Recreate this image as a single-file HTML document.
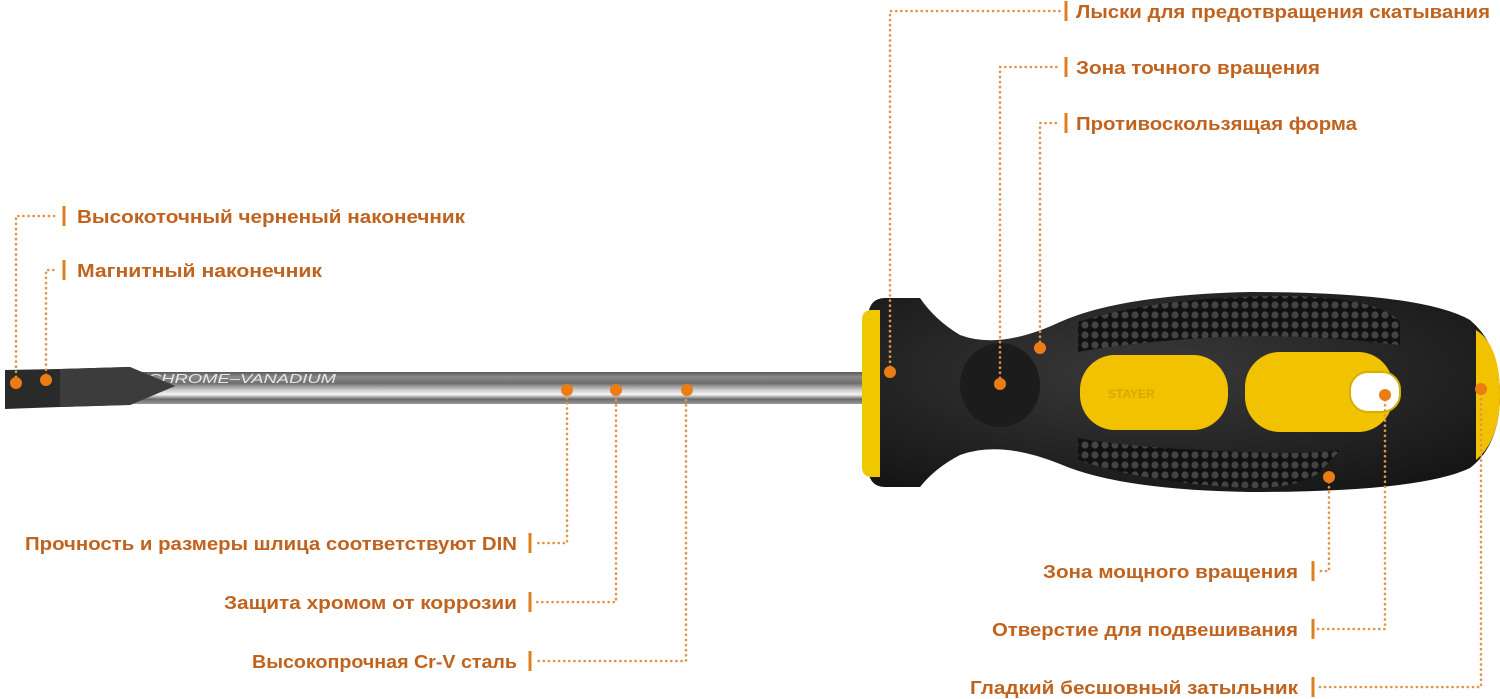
<!DOCTYPE html>
<html><head><meta charset="utf-8"><style>
html,body{margin:0;padding:0;background:#fff;}
svg{display:block;}
text{font-family:"Liberation Sans",sans-serif;font-size:18px;font-weight:bold;fill:#c0631e;}
.d{stroke:#e0944a;stroke-width:2.6;stroke-dasharray:0.1 5;stroke-linecap:round;fill:none;}
.b{stroke:#e07f1f;stroke-width:3;}
.p{fill:#ec7c14;}
</style></head><body>
<svg width="1500" height="699" viewBox="0 0 1500 699" xmlns="http://www.w3.org/2000/svg">
<defs>
<linearGradient id="sh" x1="0" y1="0" x2="0" y2="1">
<stop offset="0" stop-color="#5a5a5a"/><stop offset="0.15" stop-color="#8a8a8a"/><stop offset="0.35" stop-color="#6e6e6e"/><stop offset="0.55" stop-color="#c8c8c8"/><stop offset="0.7" stop-color="#f4f4f4"/><stop offset="0.85" stop-color="#6a6a6a"/><stop offset="1" stop-color="#9a9a9a"/>
</linearGradient>
<radialGradient id="hd" cx="0.45" cy="0.4" r="0.7">
<stop offset="0" stop-color="#3a3a3a"/><stop offset="1" stop-color="#151515"/>
</radialGradient>
<pattern id="dots" width="10" height="10" patternUnits="userSpaceOnUse">
<rect width="10" height="10" fill="#111"/><circle cx="5" cy="5" r="3.6" fill="#444"/>
</pattern>
</defs>
<rect x="120" y="372" width="745" height="32" fill="url(#sh)"/>
<text x="148" y="383" style="font-size:13px;font-weight:normal;fill:#e8e8e8;font-style:italic" textLength="188" lengthAdjust="spacingAndGlyphs">CHROME–VANADIUM</text>
<path d="M5 370 L60 369 L130 367 L175 386 L130 405 L60 407 L5 409 Z" fill="#2a2a2a"/>
<path d="M60 369 L130 367 L175 386 L130 405 L60 407 Z" fill="#3c3c3c"/>
<path d="M868 315 Q870 298 885 298 L920 298 Q935 320 960 335 Q1000 350 1060 322 Q1120 295 1250 292 Q1420 292 1470 320 Q1500 345 1500 395 Q1500 445 1470 468 Q1420 492 1250 492 Q1120 490 1060 464 Q1000 440 960 455 Q935 468 920 487 L885 487 Q870 487 868 470 Z" fill="url(#hd)"/>
<path d="M862 320 Q862 310 872 310 L880 310 L880 477 L872 477 Q862 477 862 467 Z" fill="#f0c800"/>
<path d="M1078 322 Q1160 296 1290 296 Q1380 298 1400 322 L1400 345 Q1300 332 1200 338 Q1120 344 1078 352 Z" fill="url(#dots)"/>
<path d="M1078 438 Q1120 446 1200 450 Q1300 456 1340 450 L1320 472 Q1300 488 1250 488 Q1150 484 1078 460 Z" fill="url(#dots)"/>
<ellipse cx="1000" cy="385" rx="40" ry="42" fill="#1c1c1c"/>
<rect x="1080" y="355" width="148" height="75" rx="35" fill="#f2c200"/>
<text x="1108" y="398" style="font-size:12px;fill:#d7a800">STAYER</text>
<rect x="1245" y="352" width="148" height="80" rx="35" fill="#f2c200"/>
<rect x="1350" y="372" width="50" height="40" rx="18" fill="#fff" stroke="#d6b000" stroke-width="2"/>
<path d="M1476 330 Q1500 345 1500 395 Q1500 440 1476 460 Z" fill="#f2c200"/>
<path class="d" d="M890 372 V11 H1060"/>
<path class="d" d="M1000 383 V67 H1060"/>
<path class="d" d="M1040 347 V123 H1060"/>
<path class="d" d="M16 382 V216 H58"/>
<path class="d" d="M46 380 V270 H58"/>
<path class="d" d="M567 388 V543 H535"/>
<path class="d" d="M616 390 V602 H535"/>
<path class="d" d="M686 390 V661 H535"/>
<path class="d" d="M1329 477 V571 H1318"/>
<path class="d" d="M1385 395 V629 H1318"/>
<path class="d" d="M1481 389 V687 H1318"/>
<line class="b" x1="1066" y1="1" x2="1066" y2="21"/>
<line class="b" x1="1066" y1="57" x2="1066" y2="77"/>
<line class="b" x1="1066" y1="113" x2="1066" y2="133"/>
<line class="b" x1="64" y1="206" x2="64" y2="226"/>
<line class="b" x1="64" y1="260" x2="64" y2="280"/>
<line class="b" x1="530" y1="533" x2="530" y2="553"/>
<line class="b" x1="530" y1="592" x2="530" y2="612"/>
<line class="b" x1="530" y1="651" x2="530" y2="671"/>
<line class="b" x1="1313" y1="561" x2="1313" y2="581"/>
<line class="b" x1="1313" y1="619" x2="1313" y2="639"/>
<line class="b" x1="1313" y1="677" x2="1313" y2="697"/>
<circle class="p" cx="890" cy="372" r="6"/>
<circle class="p" cx="1000" cy="384" r="6"/>
<circle class="p" cx="1040" cy="348" r="6"/>
<circle class="p" cx="16" cy="383" r="6"/>
<circle class="p" cx="46" cy="380" r="6"/>
<circle class="p" cx="567" cy="390" r="6"/>
<circle class="p" cx="616" cy="390" r="6"/>
<circle class="p" cx="687" cy="390" r="6"/>
<circle class="p" cx="1329" cy="477" r="6"/>
<circle class="p" cx="1385" cy="395" r="6"/>
<circle class="p" cx="1481" cy="389" r="6"/>
<text x="1076" y="18" textLength="414" lengthAdjust="spacingAndGlyphs">Лыски для предотвращения скатывания</text>
<text x="1076" y="74" textLength="244" lengthAdjust="spacingAndGlyphs">Зона точного вращения</text>
<text x="1076" y="130" textLength="281" lengthAdjust="spacingAndGlyphs">Противоскользящая форма</text>
<text x="77" y="223" textLength="388" lengthAdjust="spacingAndGlyphs">Высокоточный черненый наконечник</text>
<text x="77" y="277" textLength="245" lengthAdjust="spacingAndGlyphs">Магнитный наконечник</text>
<text x="25" y="550" textLength="492" lengthAdjust="spacingAndGlyphs">Прочность и размеры шлица соответствуют DIN</text>
<text x="224" y="609" textLength="293" lengthAdjust="spacingAndGlyphs">Защита хромом от коррозии</text>
<text x="252" y="668" textLength="265" lengthAdjust="spacingAndGlyphs">Высокопрочная Cr-V сталь</text>
<text x="1043" y="578" textLength="255" lengthAdjust="spacingAndGlyphs">Зона мощного вращения</text>
<text x="992" y="636" textLength="306" lengthAdjust="spacingAndGlyphs">Отверстие для подвешивания</text>
<text x="970" y="694" textLength="328" lengthAdjust="spacingAndGlyphs">Гладкий бесшовный затыльник</text>
</svg>
</body></html>
